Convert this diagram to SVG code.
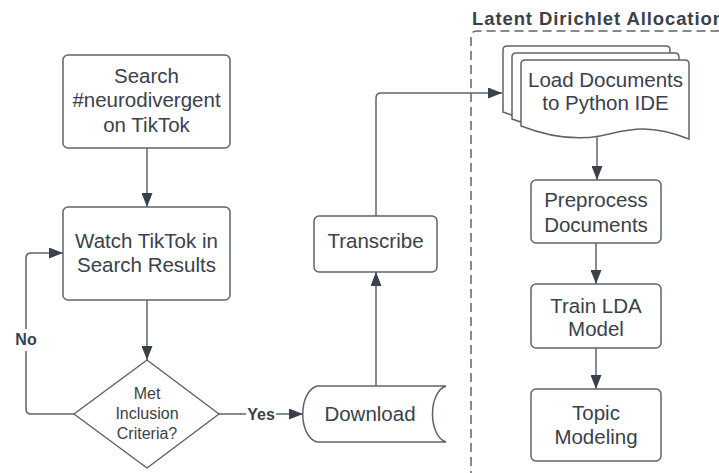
<svg xmlns="http://www.w3.org/2000/svg" width="719" height="473" viewBox="0 0 719 473">
<defs>
<marker id="arr" viewBox="0 0 14 11" refX="14" refY="5.5" markerWidth="14" markerHeight="11" markerUnits="userSpaceOnUse" orient="auto">
<path d="M0,0 L14,5.5 L0,11 Z" fill="#3a414a"/>
</marker>
</defs>
<style>
.box{fill:#ffffff;stroke:#5f6369;stroke-width:1.5}
.t{font-family:"Liberation Sans",Arial,sans-serif;font-size:20.5px;fill:#3a414a;text-anchor:middle}
.ts{font-family:"Liberation Sans",Arial,sans-serif;font-size:16px;fill:#3a414a;text-anchor:middle}
.lbl{font-family:"Liberation Sans",Arial,sans-serif;font-size:16px;font-weight:bold;fill:#3a414a;text-anchor:middle}
.ln{fill:none;stroke:#5f6369;stroke-width:1.5}
</style>
<rect width="719" height="473" fill="#ffffff"/>

<g id="lda-container">
<path d="M471,480 L471,37 Q471,31 477,31 L730,31" fill="none" stroke="#5f6369" stroke-width="1.5" stroke-dasharray="9,5"/>
<text x="472" y="25" font-family="'Liberation Sans',Arial,sans-serif" font-size="18.5" font-weight="bold" letter-spacing="0.9" fill="#3a414a">Latent Dirichlet Allocation</text>
</g>

<g id="connectors">
<path class="ln" d="M147,148 L147,207" marker-end="url(#arr)"/>
<path class="ln" d="M147,300 L147,360" marker-end="url(#arr)"/>
<path class="ln" d="M74,414 L31,414 Q26,414 26,409 L26,258 Q26,253 31,253 L63,253" marker-end="url(#arr)"/>
<rect x="12" y="329" width="28" height="22" fill="#ffffff"/>
<text class="lbl" x="26" y="345">No</text>
<path class="ln" d="M219,414 L303,414" marker-end="url(#arr)"/>
<rect x="246" y="404" width="30" height="20" fill="#ffffff"/>
<text class="lbl" x="261" y="420">Yes</text>
<path class="ln" d="M376,386 L376,272" marker-end="url(#arr)"/>
<path class="ln" d="M376,216 L376,98 Q376,93 381,93 L502,93" marker-end="url(#arr)"/>
<path class="ln" d="M597,137 L597,180" marker-end="url(#arr)"/>
<path class="ln" d="M596,243 L596,284" marker-end="url(#arr)"/>
<path class="ln" d="M596,348 L596,389" marker-end="url(#arr)"/>
</g>

<g id="search">
<rect class="box" x="63" y="55" width="167" height="93" rx="5"/>
<text class="t" x="146.5" y="83">Search</text>
<text class="t" x="146.5" y="107">#neurodivergent</text>
<text class="t" x="146.5" y="132">on TikTok</text>
</g>

<g id="watch">
<rect class="box" x="63" y="207" width="167" height="93" rx="5"/>
<text class="t" x="146.5" y="248">Watch TikTok in</text>
<text class="t" x="146.5" y="272">Search Results</text>
</g>

<g id="decision">
<path class="box" d="M147,360 L219,414 L147,468 L74,414 Z" stroke-linejoin="round"/>
<text class="ts" x="147" y="399">Met</text>
<text class="ts" x="147" y="419">Inclusion</text>
<text class="ts" x="147" y="439">Criteria?</text>
</g>

<g id="download">
<path class="box" d="M317,386 L446,386 C428,392 428,436 446,442 L317,442 C298,436 298,392 317,386 Z"/>
<text class="t" x="370" y="421">Download</text>
</g>

<g id="transcribe">
<rect class="box" x="314" y="216" width="123" height="56" rx="5"/>
<text class="t" x="375.5" y="248">Transcribe</text>
</g>

<g id="load-docs">
<path class="box" d="M503,50 Q503,46 507,46 L666,46 Q670,46 670,50 L670,125 C626,108 606,117 582,122 C560,126 534,124 503,112 Z"/>
<path class="box" d="M512,57 Q512,53 516,53 L675,53 Q679,53 679,57 L679,132 C635,115 615,124 591,129 C569,133 543,131 512,119 Z"/>
<path class="box" d="M521,64 Q521,60 525,60 L685,60 Q689,60 689,64 L689,139 C645,122 625,131 600,136 C578,140 552,138 521,126 Z"/>
<text class="t" x="605.5" y="87">Load Documents</text>
<text class="t" x="605.5" y="110">to Python IDE</text>
</g>

<g id="preprocess">
<rect class="box" x="531" y="180" width="130" height="63" rx="5"/>
<text class="t" x="596" y="207">Preprocess</text>
<text class="t" x="596" y="232">Documents</text>
</g>

<g id="train">
<rect class="box" x="531" y="284" width="130" height="64" rx="5"/>
<text class="t" x="596" y="313">Train LDA</text>
<text class="t" x="596" y="336">Model</text>
</g>

<g id="topic">
<rect class="box" x="531" y="389" width="130" height="72" rx="5"/>
<text class="t" x="596" y="420">Topic</text>
<text class="t" x="596" y="444">Modeling</text>
</g>
</svg>
